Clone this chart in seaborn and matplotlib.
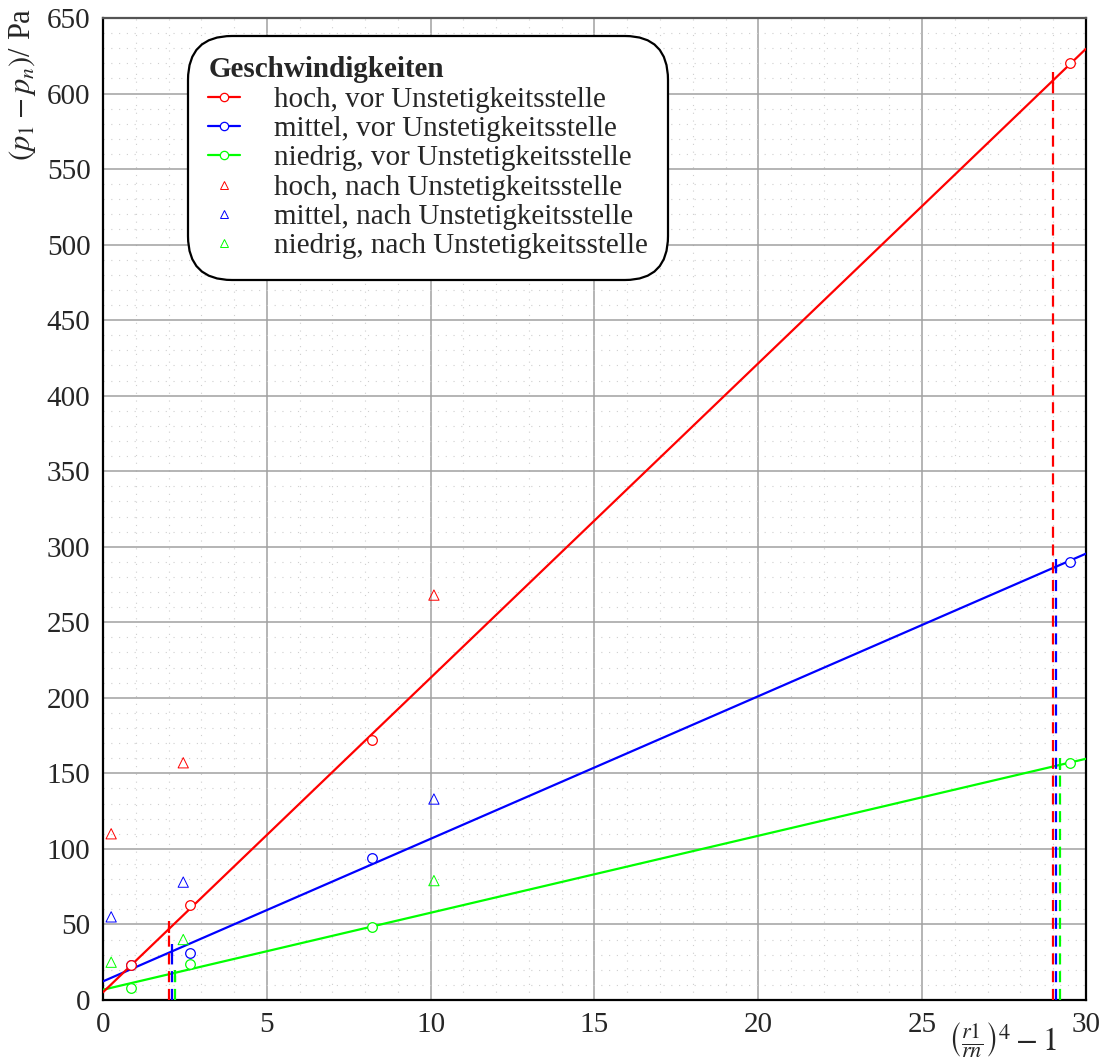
import numpy as np
import pandas as pd
import seaborn as sns
import matplotlib.pyplot as plt
from matplotlib.lines import Line2D
from matplotlib.ticker import MultipleLocator

# measured points before the discontinuity (circles)
x_vor = [0.85, 2.65, 8.2, 29.5]
hoch_vor = [23, 63, 172, 620]
mittel_vor = [23, 31, 94, 290]
niedrig_vor = [8, 24, 48, 157]

# measured points after the discontinuity (triangles)
x_nach = [0.25, 2.45, 10.1]
hoch_nach = [110, 157, 268]
mittel_nach = [55, 78, 133]
niedrig_nach = [25, 40, 79]

# dashed markers (x position and height)
hoch_mark_x = [2.0, 29.0]
hoch_mark_y = [48, 610]
mittel_mark_x = [2.1, 29.1]
mittel_mark_y = [33, 288]
niedrig_mark_x = [2.2, 29.2]
niedrig_mark_y = [16, 156]

speeds = ["hoch", "mittel", "niedrig"]
colors = {"hoch": "#ff0000", "mittel": "#0000ff", "niedrig": "#00ff00"}

vor = pd.DataFrame({"x": x_vor * 3,
                    "y": hoch_vor + mittel_vor + niedrig_vor,
                    "speed": ["hoch"] * 4 + ["mittel"] * 4 + ["niedrig"] * 4})
nach = pd.DataFrame({"x": x_nach * 3,
                     "y": hoch_nach + mittel_nach + niedrig_nach,
                     "speed": ["hoch"] * 3 + ["mittel"] * 3 + ["niedrig"] * 3})
marks = {"hoch": (hoch_mark_x, hoch_mark_y),
         "mittel": (mittel_mark_x, mittel_mark_y),
         "niedrig": (niedrig_mark_x, niedrig_mark_y)}

sns.set_style("white")
plt.rcParams["font.family"] = ["Liberation Serif", "DejaVu Serif"]
plt.rcParams["mathtext.fontset"] = "stix"

fig = plt.figure(figsize=(11.06, 10.64), dpi=100)
ax = fig.add_axes([0.0931, 0.0602, 0.8888, 0.9229])
ax.set_xlim(0, 30)
ax.set_ylim(0, 650)

# fit lines over the whole axis
for s in ["mittel", "niedrig", "hoch"]:
    d = vor[vor.speed == s]
    sns.regplot(data=d, x="x", y="y", ax=ax, ci=None, scatter=False, truncate=False,
                color=colors[s], line_kws=dict(lw=1.6, zorder=3))

# dashed vertical markers
for s in speeds:
    mx, my = marks[s]
    for xv, yv in zip(mx, my):
        ax.plot([xv, xv], [0, yv], color=colors[s], lw=1.6, ls=(0, (5, 3)), zorder=3)
        ax.plot([xv], [yv], marker="|", ms=9, mew=1.6, color=colors[s], zorder=3)

# points
for s in ["mittel", "niedrig", "hoch"]:
    d = vor[vor.speed == s]
    sns.scatterplot(data=d, x="x", y="y", ax=ax, marker="o", s=48,
                    facecolor="white", edgecolor=colors[s], linewidth=0.9, zorder=4)
    d = nach[nach.speed == s]
    sns.scatterplot(data=d, x="x", y="y", ax=ax, marker="^", s=55,
                    facecolor="none", edgecolor=colors[s], linewidth=0.7, zorder=4)

ax.set_xlim(0, 30)
ax.set_ylim(0, 650)
ax.xaxis.set_major_locator(MultipleLocator(5))
ax.yaxis.set_major_locator(MultipleLocator(50))
ax.xaxis.set_minor_locator(MultipleLocator(1))
ax.yaxis.set_minor_locator(MultipleLocator(10))
ax.grid(which="major", color="#a0a0a0", lw=1.1, zorder=0)
ax.grid(which="minor", color="#cfcfcf", lw=0.8, ls=(0, (1, 6)), zorder=0)
ax.set_axisbelow(True)
ax.tick_params(which="both", length=0, labelsize=21, pad=9)
for sp in ax.spines.values():
    sp.set_color("black")
    sp.set_linewidth(1.6)
ax.spines["top"].set_color("#555555")

ax.set_xlabel("")
ax.set_ylabel("")
fig.text(0.02, 0.993, r"$(p_1-p_n)$/ Pa", rotation=90, ha="center", va="top", fontsize=22)
fig.text(0.906, 0.004, r"$\left(\frac{r1}{rn}\right)^4-1$", ha="center", va="bottom", fontsize=23)

labels = ["hoch, vor Unstetigkeitsstelle", "mittel, vor Unstetigkeitsstelle",
          "niedrig, vor Unstetigkeitsstelle", "hoch, nach Unstetigkeitsstelle",
          "mittel, nach Unstetigkeitsstelle", "niedrig, nach Unstetigkeitsstelle"]
handles = [Line2D([], [], color=colors[s], lw=1.6, marker="o", ms=6, mfc="white", mew=0.9)
           for s in speeds]
handles += [Line2D([], [], color=colors[s], lw=0, marker="^", ms=5.5, mfc="none", mew=0.7)
            for s in speeds]
leg = ax.legend(handles, labels, title="Geschwindigkeiten", loc="upper left",
                bbox_to_anchor=(0.079, 0.989), fontsize=21,
                title_fontproperties={"weight": "bold", "size": 21},
                alignment="left", frameon=True, fancybox=True, framealpha=1,
                edgecolor="black", handlelength=1.1, handletextpad=1.15,
                labelspacing=0.1, borderpad=0.45)
leg.get_frame().set_linewidth(1.6)
leg.get_frame().set_boxstyle("round", pad=0.25, rounding_size=1.5)

fig.savefig("out.png", dpi=100)
